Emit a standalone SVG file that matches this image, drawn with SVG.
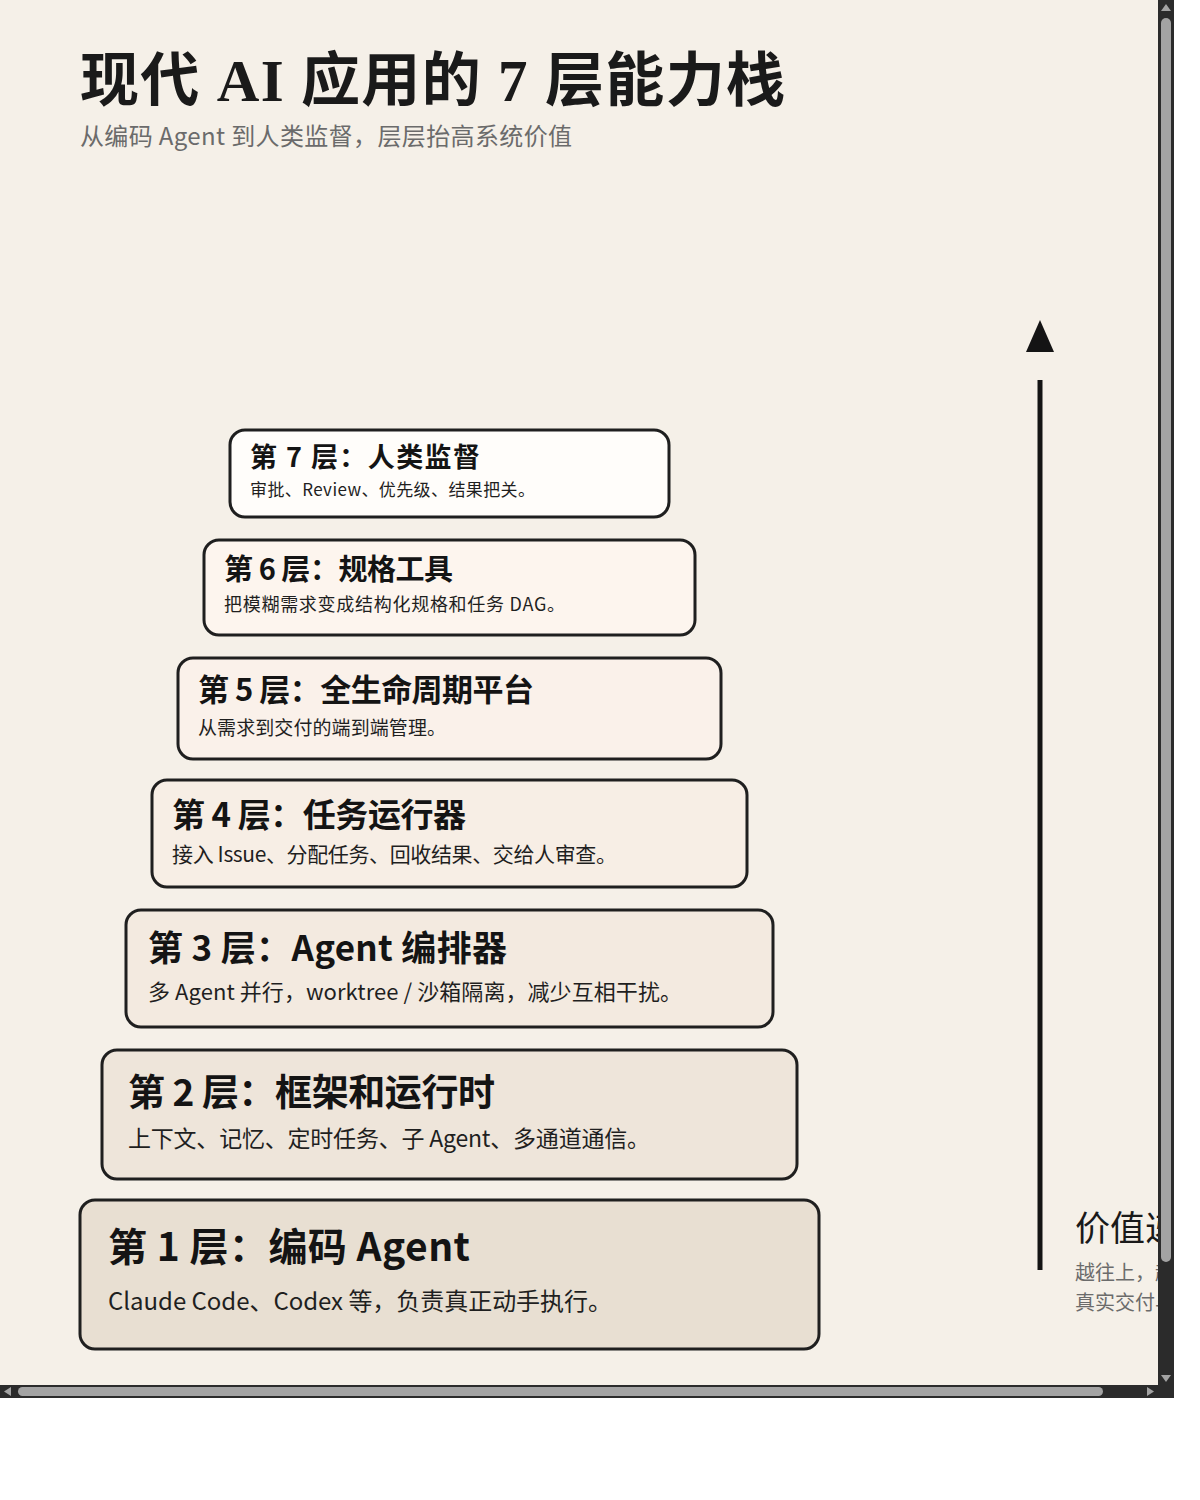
<svg xmlns="http://www.w3.org/2000/svg" width="1200" height="1500" viewBox="0 0 1200 1500">
  <defs>
    <style>
      .box { stroke: #1f1f1f; stroke-width: 3; }
      .ttl { font-family: "Noto Sans CJK SC", "Noto Sans", sans-serif; font-weight: 700; fill: #141414; }
      .dsc { font-family: "Noto Sans CJK SC", "Noto Sans", sans-serif; font-weight: 400; fill: #1f1f1f; }
      .sb-track { fill: #2b2b2b; }
      .sb-thumb { fill: #a3a3a3; }
    </style>
    <clipPath id="pageClip">
      <rect x="0" y="0" width="1158" height="1385"/>
    </clipPath>
  </defs>

  <rect x="0" y="0" width="1200" height="1500" fill="#ffffff"/>
  <rect x="0" y="0" width="1158" height="1385" fill="#f5f0e8"/>

  <g id="header">
    <text x="80" y="101" font-family="'Liberation Serif', 'Noto Sans CJK SC', serif" font-weight="700" font-size="59" fill="#1a1a1a" textLength="705" lengthAdjust="spacing">现代 AI 应用的 7 层能力栈</text>
    <text x="80" y="145" font-family="'Noto Sans CJK SC', 'Noto Sans', sans-serif" font-size="24" fill="#6b6b6b" textLength="492" lengthAdjust="spacing">从编码 Agent 到人类监督，层层抬高系统价值</text>
  </g>

  <g id="layer7">
    <rect class="box" x="230" y="430" width="439" height="87" rx="15" fill="#fffdfa"/>
    <text class="ttl" x="250" y="467" font-size="27" textLength="230" lengthAdjust="spacing">第 7 层：人类监督</text>
    <text class="dsc" x="250" y="496" font-size="17" textLength="285" lengthAdjust="spacing">审批、Review、优先级、结果把关。</text>
  </g>

  <g id="layer6">
    <rect class="box" x="204" y="540" width="491" height="95" rx="15" fill="#fdf5ee"/>
    <text class="ttl" x="224" y="580" font-size="29" textLength="229" lengthAdjust="spacing">第 6 层：规格工具</text>
    <text class="dsc" x="224" y="611" font-size="18" textLength="341" lengthAdjust="spacing">把模糊需求变成结构化规格和任务 DAG。</text>
  </g>

  <g id="layer5">
    <rect class="box" x="178" y="658" width="543" height="101" rx="15" fill="#faf1ea"/>
    <text class="ttl" x="198" y="701" font-size="31" textLength="336" lengthAdjust="spacing">第 5 层：全生命周期平台</text>
    <text class="dsc" x="198" y="735" font-size="19" textLength="248" lengthAdjust="spacing">从需求到交付的端到端管理。</text>
  </g>

  <g id="layer4">
    <rect class="box" x="152" y="780" width="595" height="107" rx="15" fill="#f7eee5"/>
    <text class="ttl" x="172" y="827" font-size="33" textLength="294" lengthAdjust="spacing">第 4 层：任务运行器</text>
    <text class="dsc" x="172" y="862" font-size="21" textLength="445" lengthAdjust="spacing">接入 Issue、分配任务、回收结果、交给人审查。</text>
  </g>

  <g id="layer3">
    <rect class="box" x="126" y="910" width="647" height="117" rx="15" fill="#f3eae0"/>
    <text class="ttl" x="148" y="961" font-size="35" textLength="359" lengthAdjust="spacing">第 3 层：Agent 编排器</text>
    <text class="dsc" x="148" y="1000" font-size="22" textLength="534" lengthAdjust="spacing">多 Agent 并行，worktree / 沙箱隔离，减少互相干扰。</text>
  </g>

  <g id="layer2">
    <rect class="box" x="102" y="1050" width="695" height="129" rx="15" fill="#eee5da"/>
    <text class="ttl" x="128" y="1106" font-size="37" textLength="367" lengthAdjust="spacing">第 2 层：框架和运行时</text>
    <text class="dsc" x="128" y="1147" font-size="23" textLength="522" lengthAdjust="spacing">上下文、记忆、定时任务、子 Agent、多通道通信。</text>
  </g>

  <g id="layer1">
    <rect class="box" x="80" y="1200" width="739" height="149" rx="15" fill="#e8dfd2"/>
    <text class="ttl" x="108" y="1261" font-size="39" textLength="362" lengthAdjust="spacing">第 1 层：编码 Agent</text>
    <text class="dsc" x="108" y="1310" font-size="24" textLength="504" lengthAdjust="spacing">Claude Code、Codex 等，负责真正动手执行。</text>
  </g>

  <g id="connectors">
    <polygon points="1040,320 1054,352 1026,352" fill="#141414"/>
    <line x1="1040" y1="380" x2="1040" y2="1270" stroke="#141414" stroke-width="5"/>
  </g>

  <g id="value-label" clip-path="url(#pageClip)">
    <text x="1075" y="1241" font-family="'Noto Sans CJK SC', 'Noto Sans', sans-serif" font-size="35" fill="#1a1a1a">价值递增</text>
    <text x="1075" y="1280" font-family="'Noto Sans CJK SC', 'Noto Sans', sans-serif" font-size="20" fill="#6b6b6b">越往上，越</text>
    <text x="1075" y="1310" font-family="'Noto Sans CJK SC', 'Noto Sans', sans-serif" font-size="20" fill="#6b6b6b">真实交付与</text>
  </g>

  <g id="scrollbars">
    <rect class="sb-track" x="1158" y="0" width="16" height="1398"/>
    <rect class="sb-thumb" x="1161" y="18" width="10" height="1244" rx="5"/>
    <polygon points="1166,4 1171,11 1161,11" fill="#a3a3a3"/>
    <polygon points="1161,1375 1171,1375 1166,1382" fill="#a3a3a3"/>
    <rect class="sb-track" x="0" y="1385" width="1174" height="13"/>
    <rect class="sb-thumb" x="18" y="1387" width="1085" height="9" rx="4.5"/>
    <polygon points="4,1391.5 11,1387 11,1396" fill="#a3a3a3"/>
    <polygon points="1154,1391.5 1147,1387 1147,1396" fill="#a3a3a3"/>
  </g>
</svg>
